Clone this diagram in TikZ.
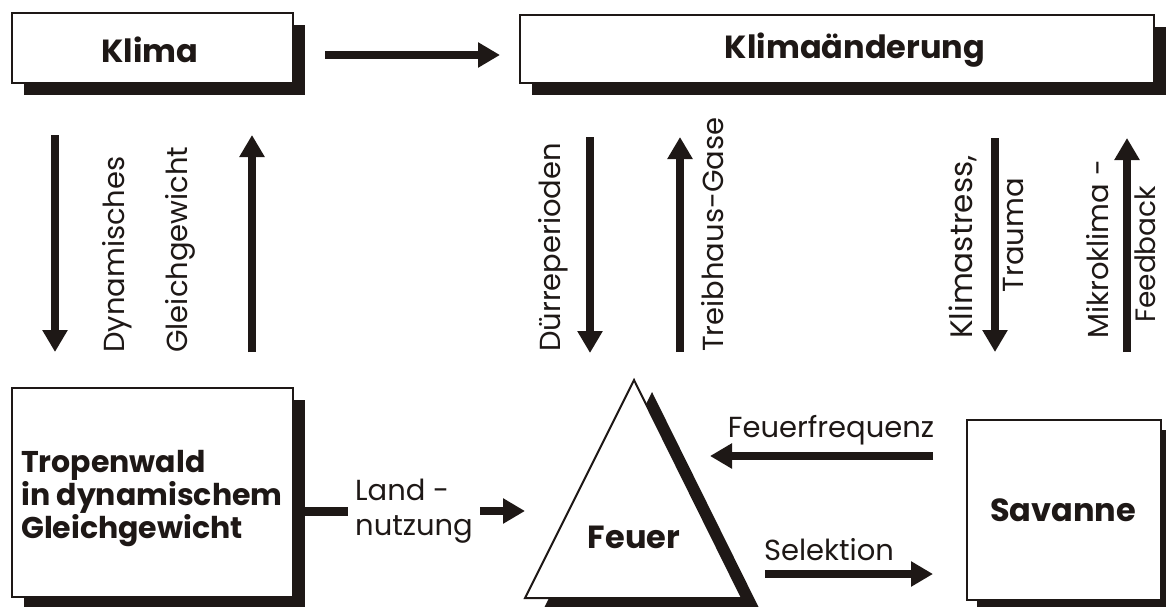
\documentclass[tikz,border=0pt]{standalone}
\usepackage{fontspec}
\setmainfont{Poppins}
\usetikzlibrary{arrows.meta,shadows}
\definecolor{ink}{RGB}{30,24,22}
\begin{document}
\begin{tikzpicture}[x=1pt,y=-1pt,
  box/.style={draw=ink, line width=2pt, fill=white, inner sep=0pt},
  shad/.style={drop shadow={shadow xshift=12pt, shadow yshift=-12pt, opacity=1, fill=ink}},
  lbl/.style={font=\fontsize{29}{35}\selectfont, text=ink, inner sep=0pt},
  blbl/.style={font=\fontsize{32}{33}\selectfont\bfseries, text=ink, inner sep=0pt},
  fat/.style={line width=8pt, draw=ink, -{Triangle[length=22pt,width=24pt]}},
  bar/.style={line width=9pt, draw=ink}
]
\useasboundingbox (0,0) rectangle (1166,607);

% boxes
\node[box, shad, minimum width=281pt, minimum height=70pt] (klima) at (152.5,48) {};
\node[box, shad, minimum width=634pt, minimum height=68pt] (kaend) at (837,49) {};
\node[box, shad, minimum width=281pt, minimum height=209pt] (tropen) at (152.5,492.5) {};
\node[box, drop shadow={shadow xshift=10pt, shadow yshift=-10pt, opacity=1, fill=ink}, minimum width=194pt, minimum height=180pt] (sav) at (1064,510) {};

% triangle
\fill[ink] (652,392) -- (760,610) -- (543,610) -- cycle;
\draw[box] (634,380) -- (742,598) -- (525,598) -- cycle;

% texts in boxes
\node[blbl] (tklima) at (150,50) {Klima};
\node[blbl] (tkaend) at (855,50) {Klimaänderung};
\node[blbl, font=\fontsize{30}{33}\selectfont\bfseries, anchor=base west, align=left] (ttropen) at (21,538) {Tropenwald\\in dynamischem\\Gleichgewicht};
\node[blbl] (tsav) at (1063,510) {Savanne};
\node[blbl] (feuer) at (634,537) {Feuer};

% top horizontal arrow
\coordinate (a1) at (325,55);
\coordinate (a2) at (500,55);
\draw[fat] (a1) -- (a2);

% left vertical arrows
\coordinate (l1t) at (55,135); \coordinate (l1b) at (55,352);
\coordinate (l2t) at (252,135); \coordinate (l2b) at (252,352);
\draw[fat] (l1t) -- (l1b);
\draw[fat] (l2b) -- (l2t);
\node[lbl, rotate=90, anchor=west] (dyn) at (117,353) {Dynamisches};
\node[lbl, rotate=90, anchor=west] (gg) at (180,353) {Gleichgewicht};

% middle vertical arrows
\coordinate (m1t) at (590,137); \coordinate (m1b) at (590,353);
\coordinate (m2t) at (680,137); \coordinate (m2b) at (680,352);
\draw[fat] (m1t) -- (m1b);
\draw[fat] (m2b) -- (m2t);
\node[lbl, rotate=90, anchor=west] (duerre) at (553,352) {Dürreperioden};
\node[lbl, rotate=90, anchor=west] (treib) at (713,352) {Treibhaus-Gase};

% right vertical arrows
\coordinate (r1t) at (995,138); \coordinate (r1b) at (995,352);
\coordinate (r2t) at (1127,138); \coordinate (r2b) at (1127,352);
\draw[fat] (r1t) -- (r1b);
\draw[fat] (r2b) -- (r2t);
\node[lbl, font=\fontsize{31}{35}\selectfont, rotate=90, anchor=west] (kstress) at (963,339) {Klimastress,};
\node[lbl, rotate=90, anchor=east] (trauma) at (1014,178) {Trauma};
\node[lbl, rotate=90, anchor=west] (mikro) at (1098,339) {Mikroklima -};
\node[lbl, font=\fontsize{28}{35}\selectfont, rotate=90, anchor=west] (feed) at (1145,323) {Feedback};

% Landnutzung
\coordinate (n1) at (305,511); \coordinate (n2) at (348,511);
\draw[bar] (n1) -- (n2);
\node[lbl, anchor=base west, align=left] (land) at (355,535) {Land -\\nutzung};
\coordinate (n3) at (480,511); \coordinate (n4) at (525,511);
\draw[fat] (n3) -- (n4);

% Feuerfrequenz / Selektion
\coordinate (f1) at (933,456); \coordinate (f2) at (710,456);
\draw[fat] (f1) -- (f2);
\node[lbl] (tff) at (831,430) {Feuerfrequenz};
\coordinate (s1) at (765,574); \coordinate (s2) at (933,574);
\draw[fat] (s1) -- (s2);
\node[lbl] (tsel) at (829,550) {Selektion};
\end{tikzpicture}
\end{document}
